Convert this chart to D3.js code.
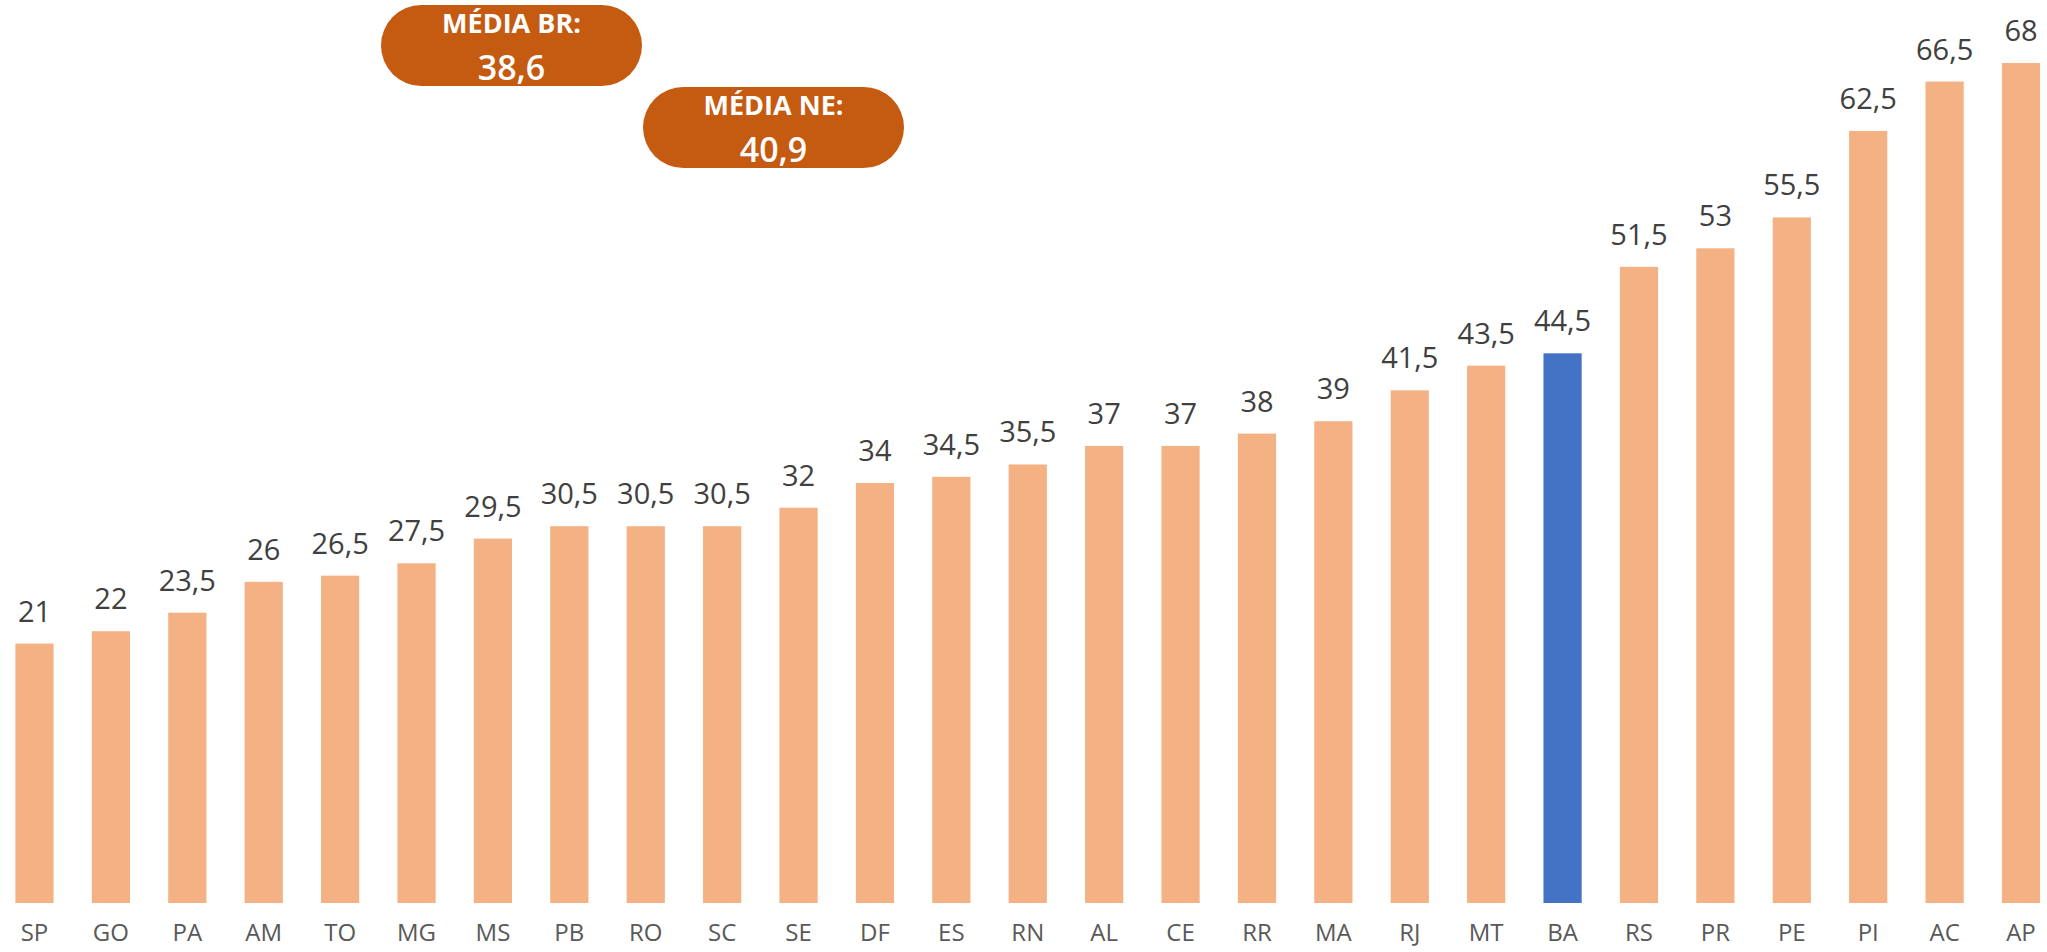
<!DOCTYPE html>
<html>
<head>
<meta charset="utf-8">
<script src="https://cdn.jsdelivr.net/npm/d3@7"></script>
<style>
  html, body { margin: 0; padding: 0; background: #fff; }
  svg { display: block; font-family: "Open Sans", sans-serif; }
</style>
</head>
<body>
<svg id="chart" width="2047" height="952"></svg>
<script>
// states, sorted by value
var states = ["SP","GO","PA","AM","TO","MG","MS","PB","RO","SC","SE","DF","ES","RN","AL","CE","RR","MA","RJ","MT","BA","RS","PR","PE","PI","AC","AP"];
var values = [21,22,23.5,26,26.5,27.5,29.5,30.5,30.5,30.5,32,34,34.5,35.5,37,37,38,39,41.5,43.5,44.5,51.5,53,55.5,62.5,66.5,68];
var highlight = "BA";

// averages shown in the orange badges
var avgLabels = ["MÉDIA BR:", "MÉDIA NE:"];
var avgValues = [38.6, 40.9];

var svg = d3.select("#chart");
var fmt = function(v){ return String(v).replace(".", ","); };

var x = d3.scaleBand()
    .domain(states)
    .range([-3.7, 2059.2])
    .paddingInner(0.5)
    .paddingOuter(0.25);

var y = d3.scaleLinear()
    .domain([0, 68])
    .range([903, 63]);

// bars
svg.append("g").selectAll("rect")
    .data(states)
  .enter().append("rect")
    .attr("x", function(d){ return x(d); })
    .attr("y", function(d, i){ return y(values[i]); })
    .attr("width", x.bandwidth())
    .attr("height", function(d, i){ return y(0) - y(values[i]); })
    .attr("fill", function(d){ return d == highlight ? "#4472C4" : "#F4B183"; });

// value labels
svg.append("g").selectAll("text")
    .data(states)
  .enter().append("text")
    .attr("x", function(d){ return x(d) + x.bandwidth()/2; })
    .attr("y", function(d, i){ return y(values[i]) - 22; })
    .attr("text-anchor", "middle")
    .attr("font-size", 29)
    .attr("fill", "#404040")
    .text(function(d, i){ return fmt(values[i]); });

// x axis (labels only)
var xAxis = svg.append("g")
    .attr("transform", "translate(0,903)")
    .call(d3.axisBottom(x).tickSize(0).tickPadding(21));
xAxis.select(".domain").remove();
xAxis.selectAll("text")
    .attr("font-family", "Open Sans, sans-serif")
    .attr("font-size", 24)
    .attr("fill", "#595959");

// average badges
var badgeX = [381, 643], badgeY = [5, 87];
var badges = svg.append("g").selectAll("g")
    .data(avgLabels)
  .enter().append("g")
    .attr("transform", function(d, i){ return "translate(" + badgeX[i] + "," + badgeY[i] + ")"; });

badges.append("rect")
    .attr("width", 261)
    .attr("height", 81)
    .attr("rx", 40.5)
    .attr("fill", "#C55A11");

badges.append("text")
    .attr("x", 130.5)
    .attr("y", 28)
    .attr("text-anchor", "middle")
    .attr("font-size", 27)
    .attr("font-weight", 700)
    .attr("fill", "#fff")
    .text(function(d){ return d; });

badges.append("text")
    .attr("x", 130.5)
    .attr("y", 75)
    .attr("text-anchor", "middle")
    .attr("font-size", 34)
    .attr("font-weight", 600)
    .attr("fill", "#fff")
    .text(function(d, i){ return fmt(avgValues[i]); });
</script>
</body>
</html>
